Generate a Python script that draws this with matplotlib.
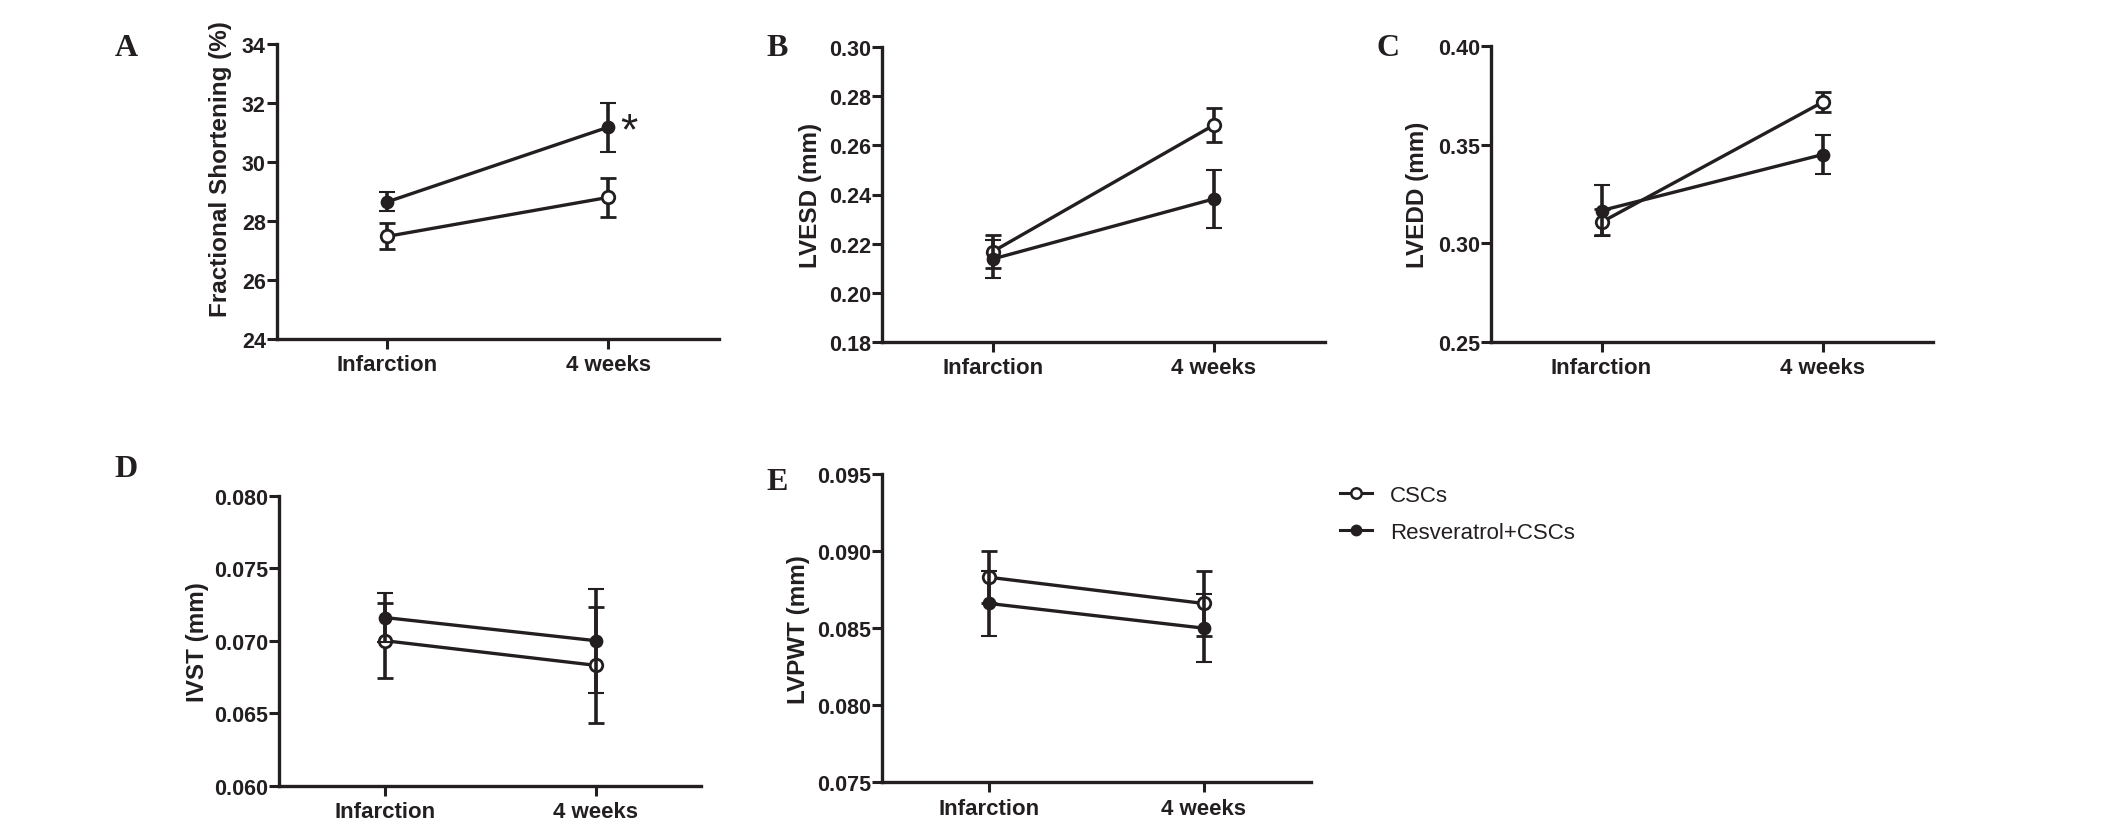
import numpy as np
import matplotlib
matplotlib.use("Agg")
import matplotlib.pyplot as plt
from matplotlib.lines import Line2D
from matplotlib.ticker import FormatStrFormatter

plt.rcParams['font.family'] = ['Liberation Sans', 'DejaVu Sans']

# ---- data (mean +/- SEM) ----
groups = ['Infarction', '4 weeks']
seriesNames = ['CSCs', 'Resveratrol+CSCs']

fsCsc = [27.48, 28.80]
fsCscErr = [0.44, 0.67]
fsRes = [28.65, 31.18]
fsResErr = [0.32, 0.83]

lvesdCsc = [0.2167, 0.2683]
lvesdCscErr = [0.0068, 0.0069]
lvesdRes = [0.2137, 0.2382]
lvesdResErr = [0.0078, 0.0117]

lveddCsc = [0.3107, 0.3716]
lveddCscErr = [0.0066, 0.0050]
lveddRes = [0.3166, 0.3450]
lveddResErr = [0.0128, 0.0100]

ivstCsc = [0.0700, 0.0683]
ivstCscErr = [0.0026, 0.0040]
ivstRes = [0.0716, 0.0700]
ivstResErr = [0.0017, 0.0036]

lvpwtCsc = [0.0883, 0.0866]
lvpwtCscErr = [0.0017, 0.0021]
lvpwtRes = [0.0866, 0.0850]
lvpwtResErr = [0.0021, 0.0022]

ink = '#231f20'
W, H = 2126, 828

fig = plt.figure(figsize=(W / 100, H / 100), dpi=100)
fig.patch.set_facecolor('white')


def makeAxes(left, top, right, bottom):
    # pixel box -> figure fraction
    return fig.add_axes([left / W, 1 - bottom / H, (right - left) / W, (bottom - top) / H])


def drawPanel(ax, csc, cscErr, res, resErr, ylim, yticks, fmt, ylabel, labelX, labelY=0.5):
    x = np.arange(1, len(groups) + 1)
    ax.errorbar(x, csc, yerr=cscErr, fmt='-o', color=ink, lw=2.4, ms=9,
                mfc='white', mec=ink, mew=2.0, elinewidth=2.6, capsize=6, capthick=2.6, zorder=3)
    ax.errorbar(x, res, yerr=resErr, fmt='-o', color=ink, lw=2.4, ms=8.4,
                mfc=ink, mec=ink, mew=1.5, elinewidth=2.6, capsize=6, capthick=2.6, zorder=4)
    ax.set_xlim(0.5, len(groups) + 0.5)
    ax.set_ylim(*ylim)
    ax.set_yticks(yticks)
    ax.yaxis.set_major_formatter(FormatStrFormatter(fmt))
    ax.set_xticks(x)
    ax.set_xticklabels(groups)
    for s in ['top', 'right']:
        ax.spines[s].set_visible(False)
    for s in ['left', 'bottom']:
        ax.spines[s].set_linewidth(2.4)
        ax.spines[s].set_color(ink)
    ax.tick_params(axis='both', direction='out', length=7, width=2.2, color=ink,
                   labelcolor=ink)
    ax.tick_params(axis='y', pad=1, labelsize=15.5)
    ax.tick_params(axis='x', pad=4, labelsize=16)
    for lab in ax.get_xticklabels() + ax.get_yticklabels():
        lab.set_fontweight('bold')
    ax.set_ylabel(ylabel, fontsize=17.5, fontweight='bold', color=ink)
    w = ax.get_position().width * W
    ax.yaxis.set_label_coords(labelX / w, labelY)
    ax.set_facecolor('none')


axA = makeAxes(277, 45, 718.5, 340)
drawPanel(axA, fsCsc, fsCscErr, fsRes, fsResErr, (24, 34), np.arange(24, 35, 2), '%d',
          'Fractional Shortening (%)', labelX=-45, labelY=0.58)
axA.annotate('*', xy=(2, fsRes[1]), xytext=(14.7, -11.7), textcoords='offset points',
             ha='center', va='baseline', fontsize=32, color=ink)

axB = makeAxes(882, 48.3, 1324.5, 342.7)
drawPanel(axB, lvesdCsc, lvesdCscErr, lvesdRes, lvesdResErr, (0.18, 0.30),
          np.arange(0.18, 0.301, 0.02), '%.2f', 'LVESD (mm)', labelX=-60)

axC = makeAxes(1491, 47.3, 1933, 342.7)
drawPanel(axC, lveddCsc, lveddCscErr, lveddRes, lveddResErr, (0.25, 0.40),
          np.arange(0.25, 0.401, 0.05), '%.2f', 'LVEDD (mm)', labelX=-62)

axD = makeAxes(279, 496.7, 701.5, 786.7)
drawPanel(axD, ivstCsc, ivstCscErr, ivstRes, ivstResErr, (0.060, 0.080),
          np.arange(0.060, 0.0801, 0.005), '%.3f', 'IVST (mm)', labelX=-70)

axE = makeAxes(882, 475, 1311, 783.3)
drawPanel(axE, lvpwtCsc, lvpwtCscErr, lvpwtRes, lvpwtResErr, (0.075, 0.095),
          np.arange(0.075, 0.0951, 0.005), '%.3f', 'LVPWT (mm)', labelX=-72)

# legend
handles = [
    Line2D([], [], color=ink, lw=2.2, marker='o', ms=7.5, mfc='white', mec=ink, mew=1.8),
    Line2D([], [], color=ink, lw=2.2, marker='o', ms=7.5, mfc=ink, mec=ink),
]
fig.legend(handles, seriesNames, loc='upper left', bbox_to_anchor=(1331 / W, 1 - 477 / H),
           frameon=False, fontsize=16, handlelength=1.44, handletextpad=0.8,
           labelspacing=0.72, borderaxespad=0, labelcolor=ink)

# panel letters
panelLetters = ['A', 'B', 'C', 'D', 'E']
letterPos = [(126, 48), (777, 48), (1388, 48), (126, 470), (777, 483)]
for letter, (px, py) in zip(panelLetters, letterPos):
    fig.text(px / W, 1 - py / H, letter, ha='center', va='center', fontsize=23,
             fontweight='bold', family=['Liberation Serif', 'DejaVu Serif'], color=ink)

fig.savefig('out.png', dpi=100, facecolor='white')
